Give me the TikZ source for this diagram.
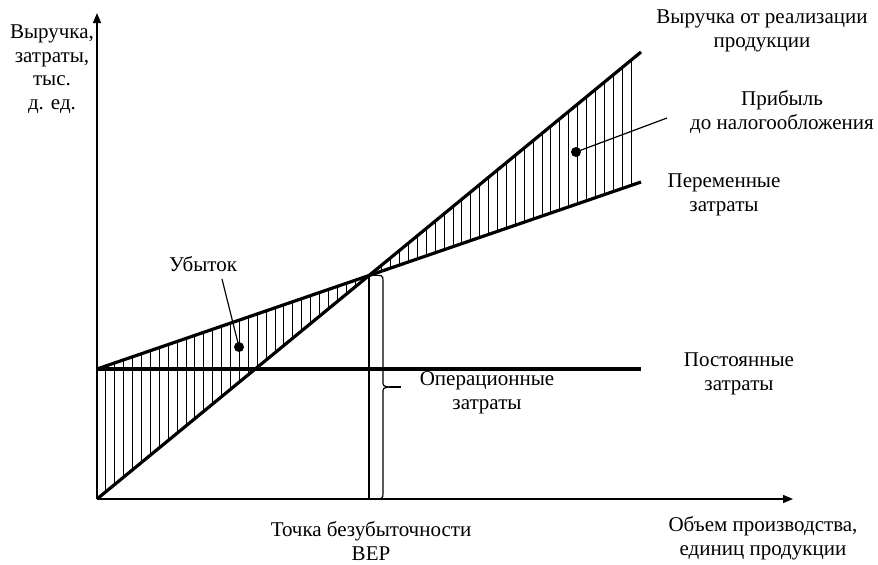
\documentclass[tikz,border=0pt]{standalone}
\usepackage{fontspec}
\setmainfont{Liberation Serif}
\usetikzlibrary{arrows.meta,intersections}

\begin{document}
\begin{tikzpicture}[x=0.5pt,y=-0.5pt,
  axis/.style={-{Triangle[length=5pt,width=4pt]},line width=0.7pt},
  graph/.style={line width=1.6pt},
  hatch/.style={line width=0.45pt},
  lead/.style={line width=0.6pt},
  dot/.style={circle,fill,inner sep=0pt,minimum size=5pt},
  lbl/.style={align=center,inner sep=0pt,font=\fontsize{10.5}{11.8}\selectfont}
]
\useasboundingbox (0,0) rectangle (878,564);
\coordinate (O) at (97,499);
\coordinate (ytip) at (97,13);
\coordinate (xtip) at (793,499);
\coordinate (revend) at (641,52);
\coordinate (fcstart) at (97,369);
\coordinate (tcend) at (641,182);
\coordinate (fcend) at (641,369);
\foreach \k in {1,...,60}{
  \pgfmathsetmacro\hx{97+8.9*\k}
  \draw[hatch] (\hx,{499-447/544*(\hx-97)}) -- (\hx,{369-187/544*(\hx-97)});
}
\draw[axis] (O) -- (ytip);
\draw[axis] (O) -- (xtip);
\draw[graph,name path=rev] (O) -- (revend);
\draw[graph,name path=tc] (fcstart) -- (tcend);
\draw[graph] (fcstart) -- (fcend);
\path[name intersections={of=rev and tc,by=bep}];
\draw[lead] (bep) -- (bep |- O);
\coordinate (bracetip) at (389,387);
\coordinate (operend) at (401,387);
\draw[lead] (bep) .. controls (383,275) .. (383,281) -- (383,381)
  .. controls (383,386) .. (bracetip) .. controls (383,388) .. (383,393)
  -- (383,493) .. controls (383,499) .. (bep |- O);
\draw[lead] (bracetip) -- (operend);
\node[dot] (lossdot) at (239,347) {};
\node[dot] (profdot) at (576,152) {};
\coordinate (lossend) at (222,279);
\coordinate (profend) at (667,118);
\draw[lead] (lossdot.center) -- (lossend);
\draw[lead] (profdot.center) -- (profend);
\node[lbl] (ylab) at (52,69) {Выручка,\\затраты,\\тыс.\\д. ед.};
\node[lbl] (revlab) at (762,31) {Выручка от реализации\\продукции};
\node[lbl] (proflab) at (782,112) {Прибыль\\до налогообложения};
\node[lbl] (varlab) at (724,195) {Переменные\\затраты};
\node[lbl] (fixlab) at (739,374) {Постоянные\\затраты};
\node[lbl] (operlab) at (487,393) {Операционные\\затраты};
\node[lbl] (loss) at (203,264) {Убыток};
\node[lbl] (beplab) at (371,541) {Точка безубыточности\\BEP};
\node[lbl] (xlab) at (763,538) {Объем производства,\\единиц продукции};
\end{tikzpicture}
\end{document}
